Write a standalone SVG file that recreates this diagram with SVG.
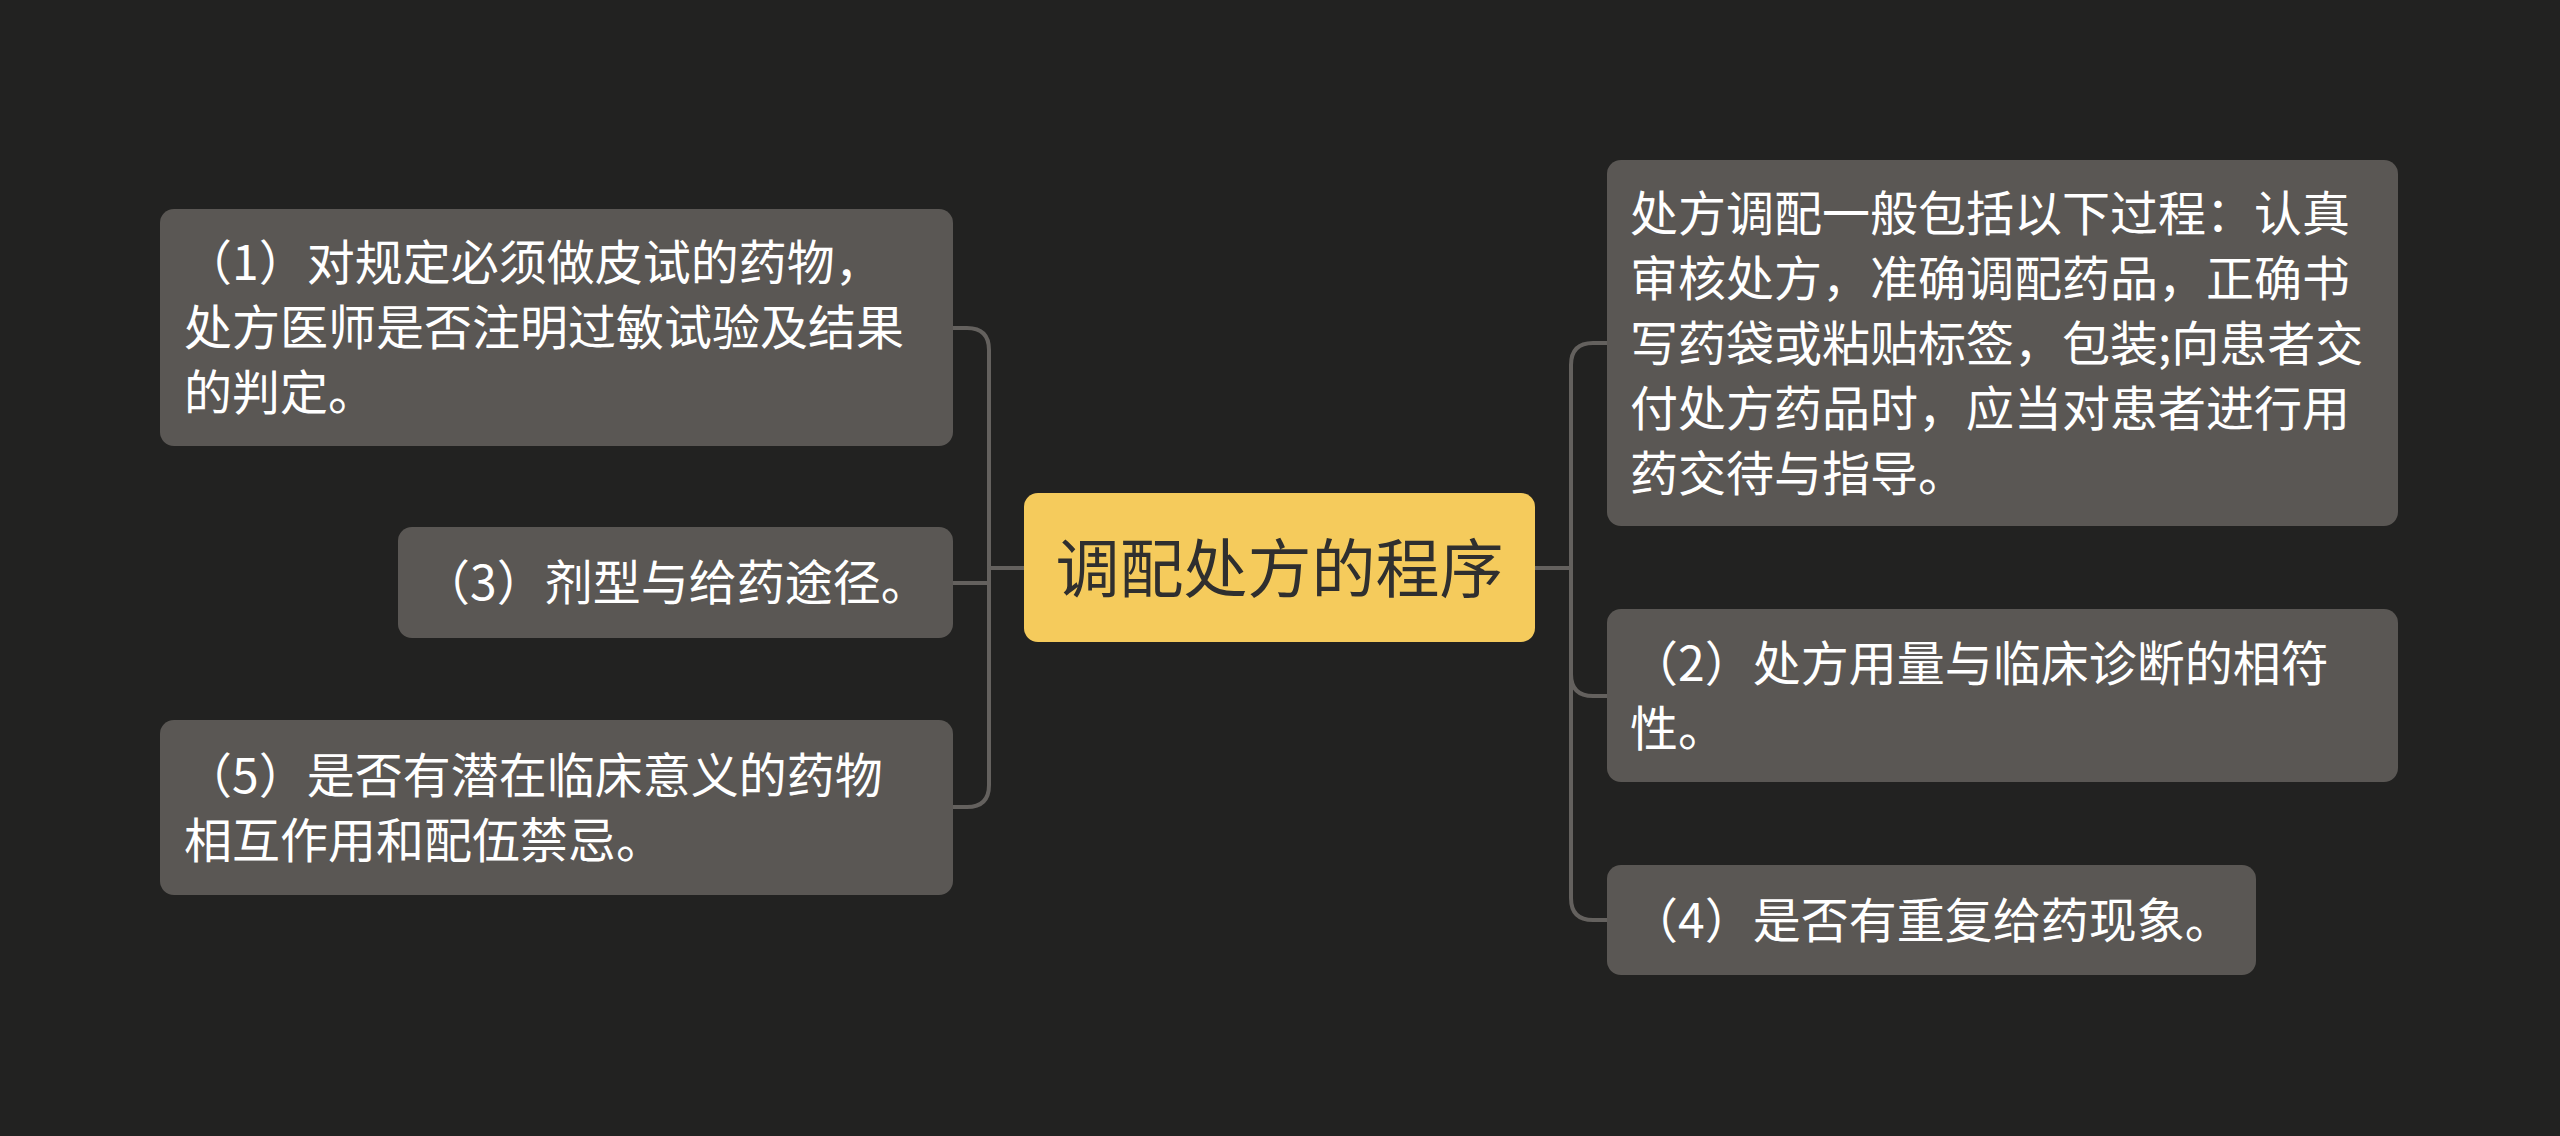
<svg xmlns="http://www.w3.org/2000/svg" width="2560" height="1136" viewBox="0 0 2560 1136">
<style>
.bg{fill:#222221}
.node rect{fill:#5a5754}
.node text{fill:#ffffff;font-family:"Noto Sans CJK SC","Noto Sans",sans-serif;font-size:48px}
.root rect{fill:#f5cb5c}
.root text{fill:#2f2f2f;font-family:"Noto Sans CJK SC","Noto Sans",sans-serif;font-size:64px}
.conn path{fill:none;stroke:#64615e;stroke-width:4;stroke-linecap:round}
</style>
<rect class="bg" x="0" y="0" width="2560" height="1136"/>
<g id="connectors" class="conn">
<path d="M1024,568 H989"/>
<path d="M989,568 V350 Q989,328 967,328 H953"/>
<path d="M989,568 V583 H953"/>
<path d="M989,568 V785 Q989,807 967,807 H953"/>
<path d="M1535,568 H1571"/>
<path d="M1571,568 V365 Q1571,343 1593,343 H1607"/>
<path d="M1571,568 V674 Q1571,696 1593,696 H1607"/>
<path d="M1571,568 V898 Q1571,920 1593,920 H1607"/>
</g>
<g id="root" class="root">
<rect x="1024" y="493" width="511" height="149" rx="14"/>
<text x="1279.5" y="592" text-anchor="middle">调配处方的程序</text>
</g>
<g id="node-1" class="node">
<rect x="160" y="209" width="793" height="237" rx="14"/>
<text x="184" y="280">（1）对规定必须做皮试的药物，</text>
<text x="184" y="345">处方医师是否注明过敏试验及结果</text>
<text x="184" y="410">的判定。</text>
</g>
<g id="node-3" class="node">
<rect x="398" y="527" width="555" height="111" rx="14"/>
<text x="422" y="600">（3）剂型与给药途径。</text>
</g>
<g id="node-5" class="node">
<rect x="160" y="720" width="793" height="175" rx="14"/>
<text x="184" y="793">（5）是否有潜在临床意义的药物</text>
<text x="184" y="858">相互作用和配伍禁忌。</text>
</g>
<g id="node-r1" class="node">
<rect x="1607" y="160" width="791" height="366" rx="14"/>
<text x="1630" y="231">处方调配一般包括以下过程：认真</text>
<text x="1630" y="296">审核处方，准确调配药品，正确书</text>
<text x="1630" y="361">写药袋或粘贴标签，包装;向患者交</text>
<text x="1630" y="426">付处方药品时，应当对患者进行用</text>
<text x="1630" y="491">药交待与指导。</text>
</g>
<g id="node-2" class="node">
<rect x="1607" y="609" width="791" height="173" rx="14"/>
<text x="1630" y="681">（2）处方用量与临床诊断的相符</text>
<text x="1630" y="746">性。</text>
</g>
<g id="node-4" class="node">
<rect x="1607" y="865" width="649" height="110" rx="14"/>
<text x="1630" y="938">（4）是否有重复给药现象。</text>
</g>
</svg>
